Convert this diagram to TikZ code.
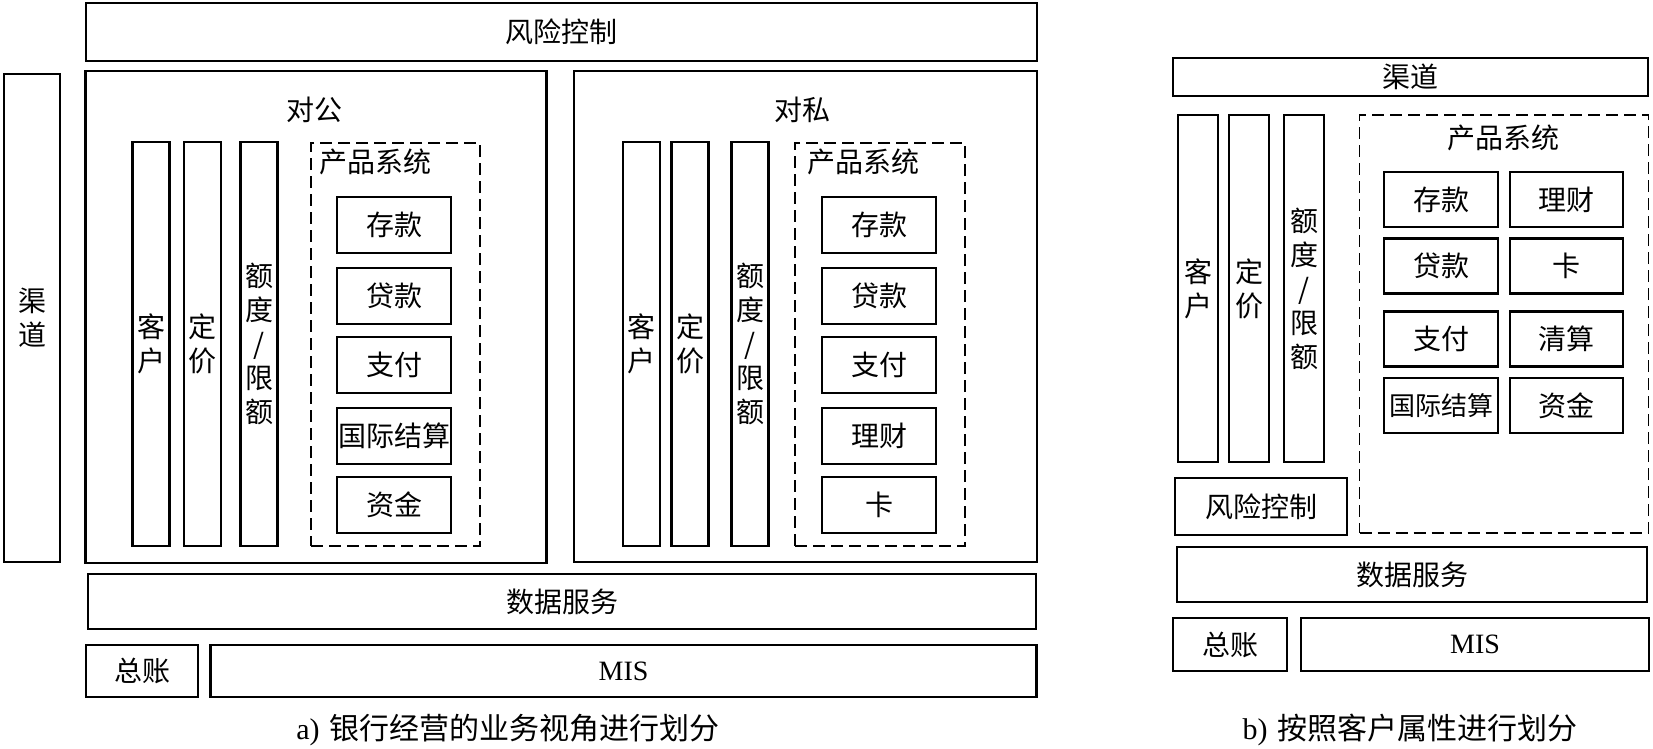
\documentclass[tikz,border=0pt]{standalone}
\usepackage{fontspec}
\setmainfont{Liberation Serif}
\newfontfamily\cjk{Noto Sans CJK SC}
\usetikzlibrary{positioning}

\begin{document}
\begin{tikzpicture}[
  x=1pt, y=-1pt,
  box/.style={draw, line width=2.8pt, inner sep=0pt, align=center,
              font=\cjk\fontsize{28}{34}\selectfont},
  bar/.style={box, minimum width=37pt, minimum height=404pt},
  barb/.style={box, minimum width=40pt, minimum height=347pt},
  prod/.style={box, minimum width=114pt, minimum height=56pt},
  prodb/.style={box, minimum height=55pt},
  prodsys/.style={draw, line width=1.4pt, dash pattern=on 12pt off 6pt,
                  inner sep=0pt},
  title/.style={inner sep=0pt, font=\cjk\fontsize{28}{34}\selectfont},
  caption/.style={inner sep=0pt, font=\fontsize{30}{34}\selectfont},
]
  \useasboundingbox (0,0) rectangle (1653,748);

  %% ===== a) business view =====
  \node[box, minimum width=951pt, minimum height=58pt] (riskA) at (561.5,32) {风险控制};
  \node[box, minimum width=56pt, minimum height=488pt] (chanA) at (32,318) {渠\\道};

  %% corporate block
  \node[box, minimum width=461pt, minimum height=492pt] (corpA) at (316,317) {};
  \node[title] (corpAlabel) at (314,110) {对公};
  \node[bar] (custA) at (151,344) {客\\户};
  \node[bar] (priceA) at (202.5,344) {定\\价};
  \node[bar] (limitA) at (259,344) {额\\度\\/\\限\\额};
  \node[prodsys, minimum width=169pt, minimum height=403pt] (psA) at (395.5,344.5) {};
  \node[title] (psAlabel) at (375.5,162) {产品系统};
  \node[prod] (depA) at (394,225) {存款};
  \node[prod] (loanA) at (394,296) {贷款};
  \node[prod] (payA) at (394,365) {支付};
  \node[prod] (intlA) at (394,436) {国际结算};
  \node[prod] (fundA) at (394,505) {资金};

  %% retail block
  \node[box, minimum width=463pt, minimum height=491pt] (retA) at (805.5,316.5) {};
  \node[title] (retAlabel) at (802.5,110) {对私};
  \node[bar] (custR) at (641.5,344) {客\\户};
  \node[bar] (priceR) at (690,344) {定\\价};
  \node[bar] (limitR) at (750,344) {额\\度\\/\\限\\额};
  \node[prodsys, minimum width=170pt, minimum height=403pt] (psR) at (880,344.5) {};
  \node[title] (psRlabel) at (863,162) {产品系统};
  \node[prod] (depR) at (879,225) {存款};
  \node[prod] (loanR) at (879,296) {贷款};
  \node[prod] (payR) at (879,365) {支付};
  \node[prod] (wealthR) at (879,436) {理财};
  \node[prod] (cardR) at (879,505) {卡};

  %% shared layers
  \node[box, minimum width=948pt, minimum height=55pt] (dataA) at (562,601.5) {数据服务};
  \node[box, minimum width=112pt, minimum height=52pt] (glA) at (142,671) {总账};
  \node[box, minimum width=826pt, minimum height=52pt, font=\fontsize{28}{34}\selectfont] (misA) at (623.5,671) {MIS};
  \node[caption] (capA) at (508,730) {a)\,\,{\cjk 银行经营的业务视角进行划分}};

  %% ===== b) customer attributes =====
  \node[box, minimum width=475pt, minimum height=38pt] (chanB) at (1410.5,77) {渠道};
  \node[barb] (custB) at (1198,288.5) {客\\户};
  \node[barb] (priceB) at (1249,288.5) {定\\价};
  \node[barb] (limitB) at (1304,288.5) {额\\度\\/\\限\\额};
  \node[prodsys, minimum width=289pt, minimum height=418pt] (psB) at (1504,324) {};
  \node[title] (psBlabel) at (1503,138) {产品系统};
  \node[prodb, minimum width=114pt] (depB) at (1441,199.5) {存款};
  \node[prodb, minimum width=113pt] (wealthB) at (1566.5,199.5) {理财};
  \node[prodb, minimum width=114pt] (loanB) at (1441,266) {贷款};
  \node[prodb, minimum width=113pt] (cardB) at (1566.5,266) {卡};
  \node[prodb, minimum width=114pt] (payB) at (1441,339) {支付};
  \node[prodb, minimum width=113pt] (clearB) at (1566.5,339) {清算};
  \node[prodb, minimum width=114pt, font=\cjk\fontsize{26}{30}\selectfont] (intlB) at (1441,405.5) {国际结算};
  \node[prodb, minimum width=113pt] (fundB) at (1566.5,405.5) {资金};
  \node[box, minimum width=172pt, minimum height=57pt] (riskB) at (1261,506.5) {风险控制};
  \node[box, minimum width=470pt, minimum height=55pt] (dataB) at (1412,574.5) {数据服务};
  \node[box, minimum width=114pt, minimum height=53pt] (glB) at (1230,644.5) {总账};
  \node[box, minimum width=348pt, minimum height=53pt, font=\fontsize{28}{34}\selectfont] (misB) at (1475,644.5) {MIS};
  \node[caption] (capB) at (1410,730) {b)\,\,{\cjk 按照客户属性进行划分}};

\end{tikzpicture}
\end{document}
